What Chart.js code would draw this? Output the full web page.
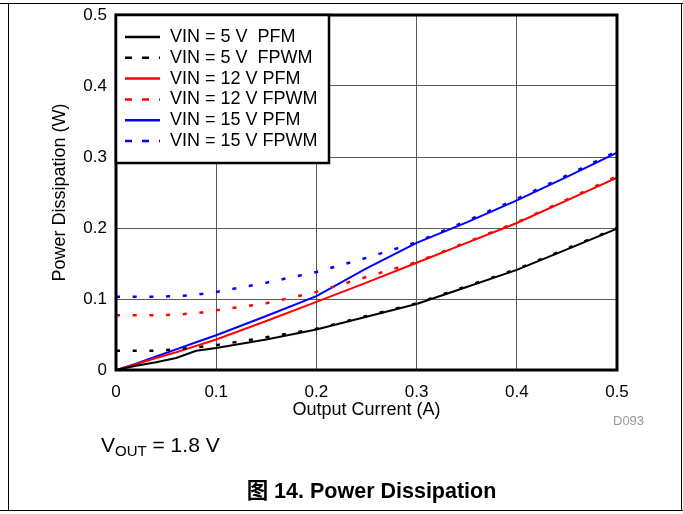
<!DOCTYPE html>
<html>
<head>
<meta charset="utf-8">
<title>Power Dissipation</title>
<script src="https://cdn.jsdelivr.net/npm/chart.js@4.4.1/dist/chart.umd.min.js"></script>
<style>
  html, body { margin: 0; padding: 0; background: #fff; }
  #wrap { position: relative; width: 683px; height: 514px; overflow: hidden;
          font-family: "Liberation Sans", Arial, "Noto Sans CJK SC", sans-serif; color: #000; }
  #powerChart { position: absolute; left: 0; top: 0; }
  .rule { position: absolute; background: #000; }
  .note { position: absolute; white-space: nowrap; }
  #code { left: 613px; top: 414px; font-size: 13px; line-height: 13px; color: #999; }
  #vout { left: 101px; top: 434px; font-size: 21px; line-height: 21px; }
  #vout sub { font-size: 15px; vertical-align: -4px; line-height: 0; }
  #caption { left: 0; width: 743px; top: 481px; text-align: center; font-size: 21.5px; line-height: 21px; font-weight: bold; }
</style>
</head>
<body>
<div id="wrap">
  <canvas id="powerChart" width="683" height="514"></canvas>
  <!-- page frame -->
  <div class="rule" style="left:0;top:3px;width:683px;height:1px"></div>
  <div class="rule" style="left:0;top:510px;width:683px;height:1px"></div>
  <div class="rule" style="left:8px;top:3px;width:1px;height:508px"></div>
  <div class="rule" style="left:681px;top:3px;width:1px;height:508px"></div>
  <div class="note" id="code">D093</div>
  <div class="note" id="vout">V<sub>OUT</sub> = 1.8 V</div>
  <div class="note" id="caption">图 14. Power Dissipation</div>
</div>
<script>
// output current (A), shared by every curve
const outputCurrent = [0, 0.02, 0.04, 0.06, 0.08, 0.1, 0.15, 0.2, 0.25, 0.3, 0.35, 0.4, 0.45, 0.5];

// power dissipation (W)
const vin5Pfm   = [0, 0.006, 0.011, 0.017, 0.027, 0.031, 0.043, 0.057, 0.075, 0.093, 0.117, 0.141, 0.170, 0.199];
const vin5Fpwm  = [0.027, 0.027, 0.027, 0.029, 0.032, 0.035, 0.046, 0.058, 0.076, 0.094, 0.118, 0.142, 0.171, 0.200];
const vin12Pfm  = [0, 0.008, 0.017, 0.025, 0.034, 0.043, 0.069, 0.096, 0.123, 0.151, 0.179, 0.207, 0.239, 0.271];
const vin12Fpwm = [0.077, 0.077, 0.077, 0.078, 0.080, 0.084, 0.094, 0.110, 0.131, 0.152, 0.180, 0.208, 0.240, 0.273];
const vin15Pfm  = [0, 0.009, 0.019, 0.029, 0.039, 0.049, 0.076, 0.104, 0.143, 0.179, 0.208, 0.239, 0.272, 0.306];
const vin15Fpwm = [0.103, 0.103, 0.103, 0.104, 0.106, 0.110, 0.123, 0.138, 0.158, 0.180, 0.210, 0.241, 0.274, 0.308];

const seriesLabels = ['VIN = 5 V  PFM', 'VIN = 5 V  FPWM', 'VIN = 12 V PFM', 'VIN = 12 V FPWM', 'VIN = 15 V PFM', 'VIN = 15 V FPWM'];
const xTickLabels = ['0', '0.1', '0.2', '0.3', '0.4', '0.5'];
const yTickLabels = ['0', '0.1', '0.2', '0.3', '0.4', '0.5'];

const FONT = '"Liberation Sans", Arial, sans-serif';
Chart.defaults.font.family = FONT;
Chart.defaults.color = '#000';

const toPoints = (ys) => ys.map((y, i) => ({ x: outputCurrent[i], y: y }));

function series(label, ys, color, dashed) {
  return {
    label: label,
    data: toPoints(ys),
    borderColor: color,
    backgroundColor: color,
    borderWidth: dashed ? 2.5 : 2,
    borderDash: dashed ? [4, 12.7] : [],
    pointRadius: 0,
    tension: 0,
    fill: false,
    dashed: dashed
  };
}

// thick box round the plot area
const plotFrame = {
  id: 'plotFrame',
  afterDatasetsDraw(chart) {
    const { ctx, chartArea: a } = chart;
    ctx.save();
    ctx.lineWidth = 3;
    ctx.strokeStyle = '#000';
    ctx.strokeRect(a.left, a.top, a.right - a.left, a.bottom - a.top);
    ctx.restore();
  }
};

// legend box in the top left corner of the plot
const insideLegend = {
  id: 'insideLegend',
  afterDraw(chart) {
    const { ctx, chartArea } = chart;
    const x0 = chartArea.left, y0 = chartArea.top;
    ctx.save();
    ctx.fillStyle = '#fff';
    ctx.fillRect(x0, y0, 213, 148);
    ctx.lineWidth = 2.5;
    ctx.strokeStyle = '#000';
    ctx.strokeRect(x0, y0, 213, 148);
    ctx.font = '18px ' + FONT;
    ctx.textBaseline = 'middle';
    chart.data.datasets.forEach((ds, i) => {
      const y = y0 + 22 + i * 20.8;
      ctx.beginPath();
      ctx.setLineDash(ds.dashed ? [7, 10] : []);
      ctx.strokeStyle = ds.borderColor;
      ctx.lineWidth = 2.5;
      ctx.moveTo(x0 + 9, y);
      ctx.lineTo(x0 + 44, y);
      ctx.stroke();
      ctx.setLineDash([]);
      ctx.fillStyle = '#000';
      ctx.fillText(ds.label, x0 + 54, y);
    });
    ctx.restore();
  }
};

new Chart(document.getElementById('powerChart'), {
  type: 'line',
  data: {
    datasets: [
      series(seriesLabels[0], vin5Pfm, '#000000', false),
      series(seriesLabels[1], vin5Fpwm, '#000000', true),
      series(seriesLabels[2], vin12Pfm, '#ff0000', false),
      series(seriesLabels[3], vin12Fpwm, '#ff0000', true),
      series(seriesLabels[4], vin15Pfm, '#0000ff', false),
      series(seriesLabels[5], vin15Fpwm, '#0000ff', true)
    ]
  },
  options: {
    responsive: false,
    animation: false,
    layout: { padding: { left: 49, right: 66, top: 15, bottom: 93 } },
    plugins: {
      legend: { display: false },
      tooltip: { enabled: false }
    },
    scales: {
      x: {
        type: 'linear',
        min: 0,
        max: 0.5,
        afterFit: (scale) => { scale.height = 51; scale.paddingLeft = 0; scale.paddingRight = 0; },
        ticks: {
          stepSize: 0.1,
          padding: 12,
          font: { size: 17 },
          callback: (v, i) => xTickLabels[i]
        },
        grid: { color: '#5a5a5a', lineWidth: 1, drawTicks: false },
        border: { display: false },
        title: { display: true, text: 'Output Current (A)', font: { size: 18 }, padding: 0 }
      },
      y: {
        min: 0,
        max: 0.5,
        afterFit: (scale) => { scale.width = 67; scale.paddingTop = 0; scale.paddingBottom = 0; },
        ticks: {
          stepSize: 0.1,
          padding: 9,
          font: { size: 17 },
          callback: (v, i) => yTickLabels[i]
        },
        grid: { color: '#5a5a5a', lineWidth: 1, drawTicks: false },
        border: { display: false },
        title: { display: true, text: 'Power Dissipation (W)', font: { size: 18 }, padding: 0 }
      }
    }
  },
  plugins: [plotFrame, insideLegend]
});
</script>
</body>
</html>
